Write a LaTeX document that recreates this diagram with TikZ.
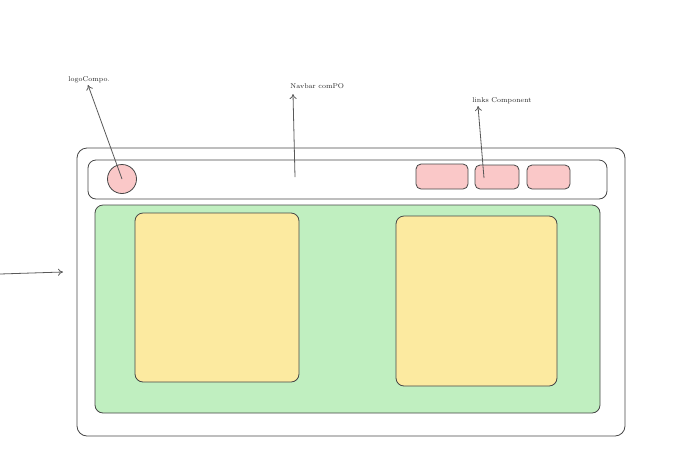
\documentclass[tikz,border=0pt]{standalone}
\usetikzlibrary{arrows.meta}
\definecolor{pinkfill}{RGB}{250,200,200}
\definecolor{greenfill}{RGB}{192,239,192}
\definecolor{yellowfill}{RGB}{252,234,160}
\definecolor{edge}{RGB}{70,70,70}
\begin{document}
\begin{tikzpicture}[x=1pt, y=-1pt, line width=0.8pt,
  box/.style = {draw=edge, rounded corners=8pt, inner sep=0pt},
  lbl/.style = {font=\fontsize{7}{8}\selectfont, inner sep=1pt, text=black!85},
  pointer/.style = {draw=black!65, -{To[length=5pt,width=7pt]}}]
  \useasboundingbox (0,0) rectangle (688,448);
  % frame and areas
  \node[box, rounded corners=10pt, minimum width=548, minimum height=288] (frame) at (351,292) {};
  \node[box, minimum width=519, minimum height=39] (navbar) at (347.5,179.5) {};
  \node[box, fill=greenfill, minimum width=505, minimum height=208] (main) at (347.5,309) {};
  \node[box, fill=yellowfill, minimum width=164, minimum height=169] (card1) at (217,297.5) {};
  \node[box, fill=yellowfill, minimum width=161, minimum height=170] (card2) at (476.5,301) {};
  % navbar items
  \node[draw=edge, circle, fill=pinkfill, minimum size=29, inner sep=0pt] (logo) at (122,179) {};
  \node[box, rounded corners=5pt, fill=pinkfill, minimum width=52, minimum height=25] (link1) at (442,176.5) {};
  \node[box, rounded corners=5pt, fill=pinkfill, minimum width=44, minimum height=24] (link2) at (497,177) {};
  \node[box, rounded corners=5pt, fill=pinkfill, minimum width=43, minimum height=24] (link3) at (548.5,177) {};
  % labels
  \node[lbl, anchor=west] (logolbl) at (67,80) {logoCompo.};
  \node[lbl, anchor=west] (navlbl) at (289,86) {Navbar comPO};
  \node[lbl, anchor=west] (linklbl) at (471,101) {links Component};
  % pointers
  \coordinate (logotip) at (88,85);
  \coordinate (navfoot) at (295,177);
  \coordinate (navtip) at (293,94);
  \coordinate (linkfoot) at (484,178);
  \coordinate (linktip) at (478,106);
  \coordinate (leftfoot) at (0,274);
  \coordinate (lefttip) at (63,272);
  \draw[pointer] (logo.center) -- (logotip);
  \draw[pointer] (navfoot) -- (navtip);
  \draw[pointer] (linkfoot) -- (linktip);
  \draw[pointer] (leftfoot) -- (lefttip);
\end{tikzpicture}
\end{document}
